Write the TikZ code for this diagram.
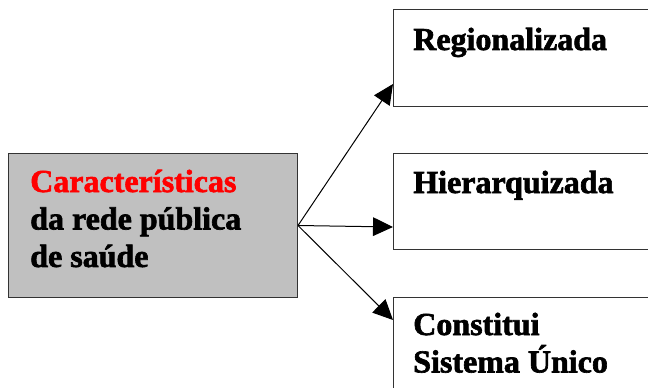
\documentclass[tikz,border=0pt]{standalone}
\usepackage{fontspec}
\setmainfont{Liberation Serif}
\newfontfamily\boxfont[FakeBold=2]{Liberation Serif Bold}
\usetikzlibrary{arrows.meta}
\usetikzlibrary{calc}
\definecolor{boxgray}{RGB}{192,192,192}

\begin{document}
\begin{tikzpicture}[x=0.75pt, y=-0.75pt,
  box/.style={draw=black!80, line width=0.75pt, anchor=north west, inner sep=0pt},
  txt/.style={anchor=base west, inner sep=0pt, text width=180pt, align=flush left, font=\boxfont\fontsize{24}{28.1}\selectfont},
  link/.style={black, line width=0.75pt, -{Triangle[length=15pt,width=14pt]}}]
\useasboundingbox (0,0) rectangle (648,388);
\clip (0,0) rectangle (648,388);
% boxes
\node[box, fill=boxgray, minimum width=216.75pt, minimum height=108pt] (carac) at (8,153) {};
\node[box, minimum width=195pt, minimum height=72.75pt] (reg) at (393,9) {};
\node[box, minimum width=195pt, minimum height=72pt] (hier) at (393,153) {};
\node[box, minimum width=195pt, minimum height=90pt] (const) at (393,297) {};
% texts, placed on their first baseline
\node[txt] (caractxt) at (30,192) {\textcolor{red}{Características}\\da rede pública\\de saúde};
\node[txt] (regtxt) at (413,50) {Regionalizada};
\node[txt] (hiertxt) at (413,193) {Hierarquizada};
\node[txt] (consttxt) at (413,335) {Constitui\\Sistema Único};
% arrows
\draw[link] (carac.east) -- ($(reg.south west)+(0,-23)$);
\draw[link] (carac.east) -- ($(hier.south west)+(0,-23)$);
\draw[link] (carac.east) -- ($(const.north west)+(0,23)$);
\end{tikzpicture}
\end{document}
